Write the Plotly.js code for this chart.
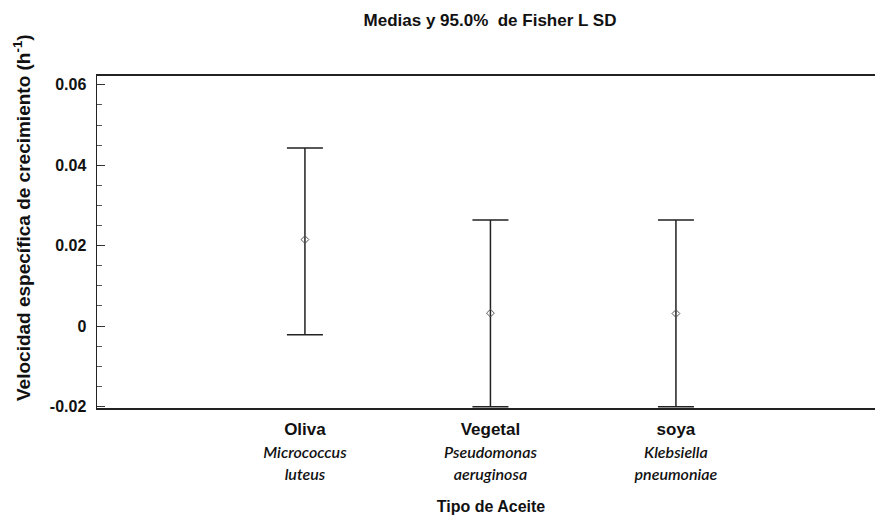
<!DOCTYPE html>
<html><head><meta charset="utf-8">
<script src="https://cdn.plot.ly/plotly-3.0.1.min.js"></script>
<style>html,body{margin:0;padding:0;background:#fff;overflow:hidden;width:875px;height:525px}</style>
</head><body><div id="chart" style="width:885px;height:525px"></div>
<script>
var categories = ['Oliva', 'Vegetal', 'soya'];
var species = [['Micrococcus', 'luteus'], ['Pseudomonas', 'aeruginosa'], ['Klebsiella', 'pneumoniae']];
var means = [0.0215, 0.0032, 0.0031];
var upper = [0.0443, 0.0264, 0.0264];
var lower = [-0.0022, -0.0201, -0.0201];
var yTickVals = [-0.02, 0, 0.02, 0.04, 0.06];
var yTickText = ['-0.02', '0', '0.02', '0.04', '0.06'];

var tickText = categories.map(function (c, i) {
  var it = '<span style="font-family:Lato;font-size:16px;font-weight:600"><i>';
  return '<b>' + c + '</b><br>' + it + species[i][0] + '</i></span><br>' + it + species[i][1] + '</i></span>';
});

var trace = {
  type: 'scatter', mode: 'markers',
  x: categories, y: means,
  marker: {symbol: 'diamond-open', size: 6, color: '#555', line: {width: 1}},
  error_y: {
    type: 'data', symmetric: false,
    array: upper.map(function (u, i) { return u - means[i]; }),
    arrayminus: lower.map(function (l, i) { return means[i] - l; }),
    color: '#222', thickness: 1.5, width: 18
  },
  hoverinfo: 'skip'
};

var layout = {
  width: 885, height: 525,
  margin: {l: 97, r: 0, t: 76, b: 117, autoexpand: false},
  paper_bgcolor: '#fff', plot_bgcolor: '#fff',
  showlegend: false,
  font: {family: 'Liberation Sans, Arial, sans-serif', color: '#111'},
  title: {text: '<b>Medias y 95.0%  de Fisher L SD</b>', x: 490 / 885, xanchor: 'center', y: 0.962, yanchor: 'middle',
          font: {family: 'Liberation Sans, Arial', size: 17, color: '#111'}},
  xaxis: {
    type: 'category', range: [-1.121, 3.127],
    tickmode: 'array', tickvals: categories, ticktext: tickText,
    ticks: '', showgrid: false, zeroline: false,
    showline: true, linecolor: '#222', linewidth: 2, mirror: true,
    tickfont: {family: 'Liberation Sans, Arial', size: 17, color: '#111'},
    ticklabelstandoff: 5,
    title: {text: '<b>Tipo de Aceite</b>', font: {family: 'Liberation Sans, Arial', size: 16, color: '#111'}, standoff: 19}
  },
  yaxis: {
    range: [-0.0204, 0.0622],
    tickmode: 'array', tickvals: yTickVals, ticktext: yTickText.map(function(t){return '<b>'+t+'</b>';}),
    ticks: 'inside', ticklen: 8, tickwidth: 1, tickcolor: '#333',
    minor: {dtick: 0.005, ticks: 'inside', ticklen: 5, tickcolor: '#555', showgrid: false},
    showgrid: false, zeroline: false,
    showline: true, linecolor: '#222', linewidth: 1.5, mirror: 'ticks',
    tickfont: {family: 'Liberation Sans, Arial', size: 16, color: '#111'},
    ticklabelstandoff: 6
  },
  annotations: [{
    text: '<b>Velocidad específica de crecimiento (h<sup>-1</sup>)</b>',
    xref: 'paper', yref: 'paper', x: (22 - 97) / 788, y: (408 - 218) / 332,
    xanchor: 'center', yanchor: 'middle', textangle: -90, showarrow: false,
    font: {family: 'Liberation Sans, Arial', size: 19, color: '#111'}
  }]
};

Plotly.newPlot('chart', [trace], layout, {displayModeBar: false, staticPlot: true});
</script></body></html>
